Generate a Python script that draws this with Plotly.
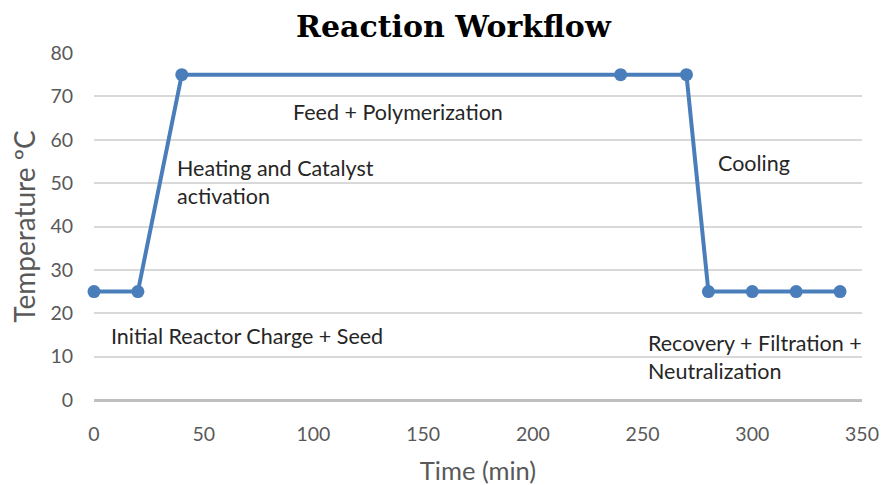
import plotly.graph_objects as go

time_min = [0, 20, 40, 240, 270, 280, 300, 320, 340]
temperature = [25, 25, 75, 75, 75, 25, 25, 25, 25]

labels = ["Initial Reactor Charge + Seed", "Feed + Polymerization",
          "Heating and Catalyst<br>activation", "Cooling",
          "Recovery + Filtration +<br>Neutralization"]
label_x = [7.0, 90.0, 37.0, 283.5, 251.5]
label_y = [14.7, 66.5, 50.2, 54.7, 10.0]

x_ticks = [0, 50, 100, 150, 200, 250, 300, 350]
y_ticks = [0, 10, 20, 30, 40, 50, 60, 70, 80]

font_fam = "Lato, 'Open Sans', sans-serif"

fig = go.Figure()
fig.add_trace(go.Scatter(
    x=time_min, y=temperature, mode="lines+markers",
    line=dict(color="#4a7ebb", width=4),
    marker=dict(color="#4a7ebb", size=13),
    showlegend=False, hoverinfo="skip", cliponaxis=False))

for t, x, y in zip(labels, label_x, label_y):
    fig.add_annotation(x=x, y=y, text=t, showarrow=False, xanchor="left",
                       yanchor="middle", align="left",
                       font=dict(family=font_fam, size=21.5, color="#262626"))

fig.update_layout(
    width=882, height=485,
    margin=dict(l=94, r=20, t=53, b=85, autoexpand=False),
    paper_bgcolor="white", plot_bgcolor="white",
    title=dict(text="<b>Reaction Workflow</b>", x=0.514, xanchor="center",
               y=0.945, yanchor="middle",
               font=dict(family="'DejaVu Serif', 'Liberation Serif', serif",
                         size=30, color="#000000")),
    xaxis=dict(range=[0, 350], tickvals=x_ticks, showgrid=False,
               zeroline=False, showline=False, ticks="", automargin=False,
               ticklabelstandoff=20,
               tickfont=dict(family=font_fam, size=19.5, color="#595959"),
               title=dict(text="Time (min)", standoff=19,
                          font=dict(family=font_fam, size=25.5, color="#595959"))),
    yaxis=dict(range=[0, 80], tickvals=y_ticks, showgrid=True,
               gridcolor="#d9d9d9", gridwidth=1.5, zeroline=True,
               zerolinecolor="#bfbfbf", zerolinewidth=2.5, showline=False,
               ticks="", ticklabelstandoff=20, automargin=False,
               tickfont=dict(family=font_fam, size=19.5, color="#595959"),
               title=dict(text="Temperature ºC", standoff=6,
                          font=dict(family=font_fam, size=28, color="#595959"))),
)

fig.write_html(
    "out.html",
    config={"displayModeBar": False},
    post_script="document.body.style.margin='0';document.body.style.overflow='hidden';",
)
